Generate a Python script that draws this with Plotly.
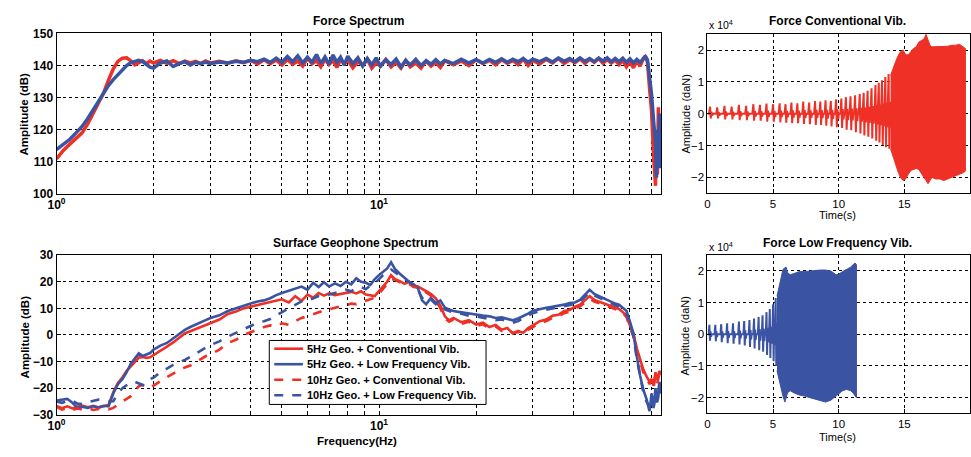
import math
import plotly.graph_objects as go

W, H = 971, 457
RED = '#EE3026'
BLUE = '#3A54A3'
FONT = 'Liberation Sans, Arial, sans-serif'

# ---------------- Force spectrum (top-left) ----------------
F_FREQ = [
    1.00, 1.05, 1.10, 1.15, 1.20, 1.25, 1.30, 1.35, 1.40, 1.45,
    1.50, 1.55, 1.60, 1.65, 1.70, 1.75, 1.80, 1.85, 1.90, 1.95,
    2.00, 2.10, 2.20, 2.30, 2.40, 2.50, 2.60, 2.70, 2.80, 2.90,
    3.00, 3.20, 3.40, 3.60, 3.80, 4.00, 4.20, 4.40, 4.60, 4.80,
    5.00, 5.20, 5.40, 5.60, 5.80, 6.00, 6.20, 6.40, 6.60, 6.80,
    7.00, 7.20, 7.40, 7.60, 7.80, 8.00, 8.30, 8.60, 8.90, 9.20,
    9.50, 9.80, 10.1, 10.5, 10.9, 11.3, 11.7, 12.1, 12.5, 13.0,
    13.5, 14.0, 14.5, 15.0, 15.5, 16.0, 17.0, 18.0, 19.0, 20.0,
    21.0, 22.0, 23.0, 24.0, 25.0, 26.0, 27.0, 28.0, 29.0, 30.0,
    31.5, 33.0, 34.5, 36.0, 37.5, 39.0, 40.5, 42.0, 43.5, 45.0,
    46.5, 48.0, 49.5, 51.0, 52.5, 54.0, 55.5, 57.0, 58.5, 60.0,
    61.5, 63.0, 64.5, 66.0, 67.0, 68.0, 69.0, 70.0, 71.0, 72.0,
    72.5, 73.0, 73.5, 74.0, 74.5, 75.0,
]
F_CONV = [
    110.9, 113.5, 115.5, 117.2, 119.0, 121.8, 125.0, 128.0, 131.5, 135.5,
    139.0, 141.3, 142.3, 142.4, 141.5, 140.2, 140.8, 141.5, 140.6, 141.4,
    140.8, 141.6, 140.7, 141.5, 140.6, 141.4, 140.8, 141.3, 140.6, 141.4,
    140.8, 141.3, 140.7, 141.5, 140.9, 141.6, 140.5, 141.8, 140.6, 141.7,
    140.2, 141.9, 140.4, 141.4, 139.8, 142.3, 140.6, 141.5, 139.6, 142.0,
    140.3, 141.6, 139.4, 141.9, 140.5, 141.7, 139.3, 141.2, 140.2, 141.9,
    139.2, 140.8, 139.8, 141.9, 139.6, 141.0, 139.2, 141.6, 139.6, 140.8,
    139.2, 141.4, 139.8, 141.0, 139.4, 141.5, 140.2, 141.4, 140.0, 141.8,
    140.6, 141.6, 140.2, 141.8, 140.7, 141.6, 140.3, 142.0, 140.0, 141.6,
    140.5, 141.9, 140.8, 142.2, 140.6, 141.8, 140.9, 142.1, 140.7, 142.0,
    141.0, 142.2, 140.7, 141.9, 140.8, 141.7, 140.3, 141.6, 139.6, 141.2,
    139.3, 141.3, 139.8, 142.2, 143.0, 141.0, 133.0, 126.0, 112.0, 102.5,
    118.0, 106.0, 127.0, 110.0, 124.0, 113.0,
]
F_LOW = [
    113.8, 115.3, 117.0, 119.0, 121.0, 123.5, 126.3, 129.0, 131.5, 133.8,
    135.6, 137.2, 138.6, 140.0, 140.9, 141.4, 141.6, 141.2, 140.3, 139.5,
    139.2, 140.8, 141.4, 139.7, 140.6, 141.2, 140.2, 141.0, 140.6, 141.1,
    140.6, 141.1, 140.8, 141.3, 141.0, 141.6, 141.2, 142.0, 141.0, 142.3,
    141.0, 142.8, 141.2, 143.0, 140.8, 142.6, 141.0, 143.4, 140.6, 142.7,
    140.4, 143.3, 141.0, 142.6, 140.2, 142.9, 140.6, 142.4, 139.8, 142.2,
    140.2, 142.4, 139.8, 141.8, 140.3, 142.0, 139.6, 141.6, 140.2, 141.9,
    140.0, 141.5, 140.4, 141.8, 140.5, 141.6, 140.6, 142.0, 140.8, 141.8,
    140.8, 141.9, 141.0, 142.1, 141.0, 142.0, 141.2, 142.2, 141.0, 142.0,
    141.2, 142.2, 141.1, 142.3, 141.3, 142.2, 141.2, 142.4, 141.3, 142.2,
    141.2, 142.3, 141.4, 142.4, 141.2, 142.2, 141.2, 142.3, 141.0, 142.1,
    140.8, 141.9, 141.0, 142.2, 142.8, 141.8, 137.0, 131.0, 123.0, 116.0,
    105.0, 120.0, 110.0, 125.0, 108.0, 118.0,
]

# ---------------- Surface geophone spectrum (bottom-left) ----------------
G_FREQ = [
    1.00, 1.04, 1.08, 1.12, 1.16, 1.20, 1.25, 1.30, 1.35, 1.40,
    1.45, 1.50, 1.55, 1.60, 1.65, 1.70, 1.75, 1.80, 1.85, 1.90,
    1.95, 2.00, 2.10, 2.20, 2.30, 2.40, 2.50, 2.60, 2.70, 2.80,
    2.90, 3.00, 3.20, 3.40, 3.60, 3.80, 4.00, 4.20, 4.40, 4.60,
    4.80, 5.00, 5.25, 5.50, 5.75, 6.00, 6.25, 6.50, 6.75, 7.00,
    7.30, 7.60, 7.90, 8.20, 8.50, 8.80, 9.10, 9.40, 9.70, 10.0,
    10.3, 10.6, 10.9, 11.2, 11.6, 12.0, 12.4, 12.8, 13.2, 13.6,
    14.0, 14.5, 15.0, 15.5, 16.0, 16.5, 17.0, 18.0, 19.0, 20.0,
    21.0, 22.0, 23.0, 24.0, 25.0, 26.0, 27.0, 28.0, 29.0, 30.0,
    31.5, 33.0, 34.5, 36.0, 37.5, 39.0, 40.5, 42.0, 43.5, 45.0,
    46.5, 48.0, 49.5, 51.0, 52.5, 54.0, 55.5, 57.0, 58.5, 60.0,
    61.5, 63.0, 64.5, 66.0, 67.5, 69.0, 70.0, 71.0, 72.0, 73.0,
    74.0, 75.0,
]
G5_CONV = [
    -26.7, -27.5, -26.8, -27.6, -27.0, -26.5, -27.2, -26.6, -27.3, -26.8,
    -26.3, -21.5, -18.0, -16.0, -13.5, -11.8, -10.0, -8.5, -8.3, -8.6,
    -8.4, -7.6, -6.0, -4.4, -2.8, -1.0, 0.6, 1.4, 2.2, 3.0,
    3.9, 4.6, 5.8, 7.9, 8.8, 10.0, 10.6, 11.2, 12.0, 12.4,
    13.0, 13.4, 12.2, 14.6, 12.8, 15.2, 14.0, 15.8, 14.8, 15.6,
    15.0, 15.4, 15.8, 16.2, 15.6, 16.4, 15.2, 14.8, 14.6, 16.5,
    18.5, 20.0, 22.5, 21.0, 20.2, 19.2, 20.0, 18.6, 18.2, 17.2,
    16.5, 15.4, 13.8, 11.0, 7.0, 5.5, 6.4, 4.8, 5.6, 3.9,
    4.6, 3.0, 3.8, 2.0, 2.6, 0.6, 1.5, 0.8, 2.6, 3.6,
    5.2, 5.8, 7.2, 7.6, 9.0, 9.4, 10.6, 11.4, 13.2, 14.6,
    13.2, 12.6, 12.2, 11.4, 11.0, 10.4, 9.8, 8.6, 7.2, 3.6,
    0.6, -5.0, -9.5, -13.0, -15.5, -17.6, -16.5, -19.0, -14.0, -17.0,
    -13.5, -15.0,
]
G5_LOW = [
    -24.6, -24.2, -24.0, -25.5, -27.3, -27.0, -27.4, -26.8, -27.2, -26.6,
    -26.8, -22.0, -18.5, -16.6, -14.0, -10.8, -8.6, -6.9, -7.9, -7.4,
    -6.8, -5.5, -4.0, -3.0, -1.2, 0.5, 1.9, 3.0, 4.0, 4.8,
    5.6, 6.4, 7.4, 9.0, 10.0, 11.2, 11.8, 12.6, 13.0, 13.8,
    15.0, 15.8, 16.6, 17.2, 18.2, 17.0, 19.6, 18.0, 19.8, 18.2,
    19.4, 18.4, 20.0, 19.0, 21.3, 20.0, 19.6, 18.8, 21.0, 22.5,
    23.7, 25.0, 27.3, 24.8, 23.0, 21.5, 20.0, 19.0, 17.6, 13.0,
    11.5, 14.0, 12.0, 13.0, 10.3, 9.6, 9.0, 8.5, 8.0, 7.6,
    7.3, 7.0, 6.4, 6.6, 6.1, 5.5, 6.2, 7.0, 8.0, 9.1,
    9.8, 10.2, 10.6, 10.9, 11.4, 12.0, 12.2, 13.2, 15.0, 17.0,
    15.4, 14.6, 13.8, 13.2, 12.4, 11.8, 11.4, 10.2, 9.1, 5.0,
    0.6, -8.0, -15.2, -20.5, -24.0, -28.6, -22.0, -27.5, -20.0, -25.0,
    -17.6, -21.0,
]
G10_CONV = [
    -27.0, -28.0, -27.4, -28.2, -27.6, -28.0, -27.5, -28.2, -27.8, -28.0,
    -28.0, -27.4, -26.1, -25.0, -24.0, -23.0, -21.0, -19.2, -18.8, -19.4,
    -20.0, -19.0, -17.2, -15.8, -14.5, -13.2, -12.2, -11.5, -10.2, -9.2,
    -8.0, -7.2, -5.5, -3.0, -1.8, 0.0, 0.9, 2.0, 3.0, 3.6,
    3.2, 4.4, 3.8, 5.2, 6.4, 7.0, 7.8, 8.6, 9.2, 9.6,
    10.3, 10.8, 11.2, 11.8, 11.6, 12.2, 13.0, 13.6, 14.0, 15.5,
    17.5, 19.2, 21.0, 20.8, 19.8, 19.5, 19.2, 18.0, 17.8, 16.6,
    16.0, 14.8, 13.0, 10.0, 6.2, 5.0, 5.8, 4.2, 5.0, 3.4,
    4.0, 2.4, 3.2, 1.6, 2.2, 0.8, 1.0, 1.8, 2.0, 3.0,
    4.4, 5.2, 6.4, 7.0, 8.2, 8.8, 10.0, 10.8, 12.4, 13.6,
    12.6, 12.0, 11.6, 10.8, 10.4, 10.0, 9.2, 8.2, 6.8, 3.0,
    -0.5, -6.0, -10.5, -14.0, -16.0, -18.5, -17.0, -20.0, -15.0, -18.0,
    -14.5, -16.0,
]
G10_LOW = [
    -25.0, -25.5, -24.8, -24.6, -25.8, -26.0, -25.2, -24.6, -24.3, -24.6,
    -25.0, -24.9, -22.0, -20.0, -18.8, -17.8, -17.6, -18.2, -18.8, -18.0,
    -16.6, -16.0, -14.0, -12.6, -11.2, -10.2, -9.4, -8.2, -7.0, -5.6,
    -4.8, -3.8, -2.4, -0.6, 0.8, 2.4, 3.6, 4.6, 5.2, 6.0,
    7.4, 8.6, 10.0, 11.4, 12.6, 12.8, 13.8, 14.6, 14.4, 15.2,
    15.8, 16.2, 17.0, 16.4, 17.6, 18.0, 17.2, 18.6, 19.4, 21.0,
    22.5, 23.4, 24.6, 23.6, 22.4, 21.0, 19.8, 18.6, 17.0, 14.0,
    12.6, 13.2, 11.6, 12.4, 9.6, 9.0, 8.4, 8.0, 7.2, 7.0,
    6.6, 6.2, 5.6, 5.8, 5.2, 4.6, 5.2, 6.2, 7.2, 8.2,
    9.0, 9.6, 10.0, 10.4, 10.8, 11.4, 11.6, 12.6, 14.2, 16.0,
    14.8, 14.0, 13.2, 12.6, 12.0, 11.2, 10.8, 9.6, 8.4, 4.0,
    -0.5, -9.0, -16.0, -21.5, -25.0, -27.0, -23.5, -28.5, -21.0, -26.5,
    -18.5, -22.0,
]
LEGEND_NAMES = [
    '5Hz Geo. + Conventional Vib.',
    '5Hz Geo. + Low Frequency Vib.',
    '10Hz Geo. + Conventional Vib.',
    '10Hz Geo. + Low Frequency Vib.',
]

# ---------------- Force time series (right) ----------------
CONV_BURST_T = [0.2, 0.75, 1.3, 1.85, 2.4, 2.95, 3.5, 4.0, 4.5, 5.0, 5.5, 5.95, 6.4, 6.85, 7.3, 7.75, 8.2,
                8.6, 9.0, 9.4, 9.8, 10.2, 10.55, 10.9, 11.25, 11.6, 11.9, 12.2, 12.5, 12.8, 13.05, 13.3, 13.55, 13.8]
CONV_BURST_UP = [0.22, 0.2, 0.25, 0.22, 0.28, 0.25, 0.3, 0.28, 0.32, 0.3, 0.33, 0.3, 0.35, 0.33, 0.38, 0.35, 0.4,
                 0.38, 0.42, 0.4, 0.45, 0.48, 0.52, 0.55, 0.58, 0.62, 0.66, 0.72, 0.8, 0.9, 0.97, 1.05, 1.15, 1.25]
CONV_BURST_DN = [-0.15, -0.15, -0.18, -0.18, -0.2, -0.2, -0.22, -0.22, -0.25, -0.25, -0.27, -0.28, -0.3, -0.3,
                 -0.32, -0.33, -0.35, -0.35, -0.38, -0.4, -0.42, -0.45, -0.5, -0.52, -0.58, -0.62, -0.68, -0.72,
                 -0.78, -0.85, -0.9, -0.98, -1.05, -1.1]
CONV_ENV_T = [13.95, 14.1, 14.3, 14.5, 14.7, 14.9, 15.1, 15.3, 15.5, 15.7, 15.9, 16.1, 16.3, 16.5, 16.65,
              16.8, 16.95, 17.1, 17.4, 17.7, 18.0, 18.3, 18.6, 18.9, 19.2, 19.5, 19.65]
CONV_ENV_UP = [1.2, 1.4, 1.6, 1.8, 1.95, 2.0, 1.85, 1.85, 1.95, 2.05, 2.1, 2.25, 2.3, 2.35, 2.5,
               2.35, 2.15, 2.1, 2.1, 2.12, 2.1, 2.12, 2.15, 2.15, 2.18, 2.1, 2.05]
CONV_ENV_DN = [-1.1, -1.3, -1.55, -1.8, -2.0, -2.1, -2.05, -1.9, -1.78, -1.75, -1.72, -1.75, -1.85, -2.0, -2.1,
               -2.2, -2.1, -2.0, -2.05, -2.05, -2.1, -2.05, -2.0, -1.95, -1.9, -1.85, -1.8]

LOW_BURST_T = [0.15, 0.6, 1.05, 1.5, 1.95, 2.4, 2.8, 3.2, 3.55, 3.9, 4.2, 4.5, 4.75, 5.0, 5.2]
LOW_BURST_UP = [0.3, 0.3, 0.32, 0.35, 0.35, 0.4, 0.42, 0.45, 0.5, 0.55, 0.6, 0.7, 0.8, 0.95, 1.15]
LOW_BURST_DN = [-0.2, -0.22, -0.25, -0.28, -0.3, -0.32, -0.35, -0.4, -0.45, -0.5, -0.55, -0.65, -0.75, -0.85, -1.0]
LOW_ENV_T = [5.3, 5.45, 5.6, 5.75, 5.9, 6.0, 6.1, 6.3, 6.6, 7.0, 7.4, 7.8, 8.2, 8.6, 9.0,
             9.4, 9.8, 10.0, 10.3, 10.6, 10.9, 11.1, 11.25, 11.35]
LOW_ENV_UP = [1.2, 1.5, 1.85, 2.05, 2.1, 2.12, 1.95, 1.88, 1.92, 1.98, 1.98, 2.0, 2.03, 2.03, 2.03,
              2.0, 1.88, 1.9, 1.98, 2.05, 2.12, 2.2, 2.25, 2.2]
LOW_ENV_DN = [-1.15, -1.45, -1.7, -1.95, -2.14, -2.05, -1.85, -1.78, -1.85, -1.92, -1.95, -2.0, -2.05, -2.1, -2.14,
              -2.08, -1.95, -1.88, -1.78, -1.74, -1.78, -1.85, -1.95, -2.0]

LOG_MAJOR = [1, 10]
LOG_MAJOR_TEXT = ['10<sup>0</sup>', '10<sup>1</sup>']
LOG_MINOR = [2, 3, 4, 5, 6, 7, 8, 9, 20, 30, 40, 50, 60, 70]
TIME_TICKS = [0, 5, 10, 15, 20]
FORCE_TICKS = [-2, -1, 0, 1, 2]

assert len(F_FREQ) == len(F_CONV) == len(F_LOW)
assert len(G_FREQ) == len(G5_CONV) == len(G5_LOW) == len(G10_CONV) == len(G10_LOW)
assert len(CONV_ENV_T) == len(CONV_ENV_UP) == len(CONV_ENV_DN)
assert len(LOW_ENV_T) == len(LOW_ENV_UP) == len(LOW_ENV_DN)
assert len(CONV_BURST_T) == len(CONV_BURST_UP) == len(CONV_BURST_DN)
assert len(LOW_BURST_T) == len(LOW_BURST_UP) == len(LOW_BURST_DN)


def burst_path(times, ups, downs, step):
    """Polyline through each burst: rise to its peak, swing to its trough, settle."""
    xs, ys = [0.0], [0.0]
    for t, u, d in zip(times, ups, downs):
        xs += [t - 0.35 * step, t, t + 0.25 * step, t + 0.5 * step, t + 0.75 * step, t + step]
        ys += [0.0, u, d, 0.3 * u, 0.4 * d, 0.0]
    return xs, ys


def px(x):
    return x / W


def py(y):
    return 1 - y / H


fig = go.Figure()

# top-left
fig.add_trace(go.Scatter(x=F_FREQ, y=F_CONV, mode='lines', line=dict(color=RED, width=3.5),
                         xaxis='x', yaxis='y', showlegend=False))
fig.add_trace(go.Scatter(x=F_FREQ, y=F_LOW, mode='lines', line=dict(color=BLUE, width=3.5),
                         xaxis='x', yaxis='y', showlegend=False))

# bottom-left
STYLES = [(RED, 'solid'), (BLUE, 'solid'), (RED, 'dash'), (BLUE, 'dash')]
for vals, (col, dash), name in zip([G5_CONV, G5_LOW, G10_CONV, G10_LOW], STYLES, LEGEND_NAMES):
    fig.add_trace(go.Scatter(x=G_FREQ, y=vals, mode='lines', name=name,
                             line=dict(color=col, width=2.6, dash=dash),
                             xaxis='x3', yaxis='y3', showlegend=False))

# right: conventional
bx, by = burst_path(CONV_BURST_T, CONV_BURST_UP, CONV_BURST_DN, 0.22)
fig.add_trace(go.Scatter(x=bx, y=by, mode='lines', line=dict(color=RED, width=2),
                         xaxis='x2', yaxis='y2', showlegend=False))
fig.add_trace(go.Scatter(x=CONV_ENV_T + CONV_ENV_T[::-1], y=CONV_ENV_UP + CONV_ENV_DN[::-1],
                         mode='lines', fill='toself', fillcolor=RED, line=dict(color=RED, width=1),
                         xaxis='x2', yaxis='y2', showlegend=False))

# right: low frequency
bx, by = burst_path(LOW_BURST_T, LOW_BURST_UP, LOW_BURST_DN, 0.17)
fig.add_trace(go.Scatter(x=bx, y=by, mode='lines', line=dict(color=BLUE, width=2),
                         xaxis='x4', yaxis='y4', showlegend=False))
fig.add_trace(go.Scatter(x=LOW_ENV_T + LOW_ENV_T[::-1], y=LOW_ENV_UP + LOW_ENV_DN[::-1],
                         mode='lines', fill='toself', fillcolor=BLUE, line=dict(color=BLUE, width=1),
                         xaxis='x4', yaxis='y4', showlegend=False))


def frame(bold, **kw):
    d = dict(showline=True, linecolor='black', linewidth=1, mirror=True,
             ticks='inside', ticklen=4, tickcolor='black',
             showgrid=True, gridcolor='black', griddash='dot', gridwidth=1,
             zeroline=False, fixedrange=True,
             tickfont=dict(family=FONT, size=12 if bold else 11.5, color='black',
                           weight='bold' if bold else 'normal'))
    d.update(kw)
    return d


LX = [px(48), px(659)]
RX = [px(705.7), 1.0]
log_axis = dict(type='log', range=[0, math.log10(75)], tickmode='array',
                tickvals=LOG_MAJOR, ticktext=LOG_MAJOR_TEXT,
                minor=dict(tickmode='array', tickvals=LOG_MINOR, ticks='inside', ticklen=3,
                           tickcolor='black', showgrid=True, gridcolor='black',
                           griddash='dot', gridwidth=1))

fig.update_layout(
    width=W, height=H, margin=dict(l=0, r=0, t=0, b=0),
    paper_bgcolor='white', plot_bgcolor='white', showlegend=False,
    font=dict(family=FONT, color='black'),
    xaxis=frame(True, domain=LX, anchor='y', **log_axis),
    yaxis=frame(True, domain=[py(192.7), py(27.3)], anchor='x', range=[100, 150], dtick=10),
    xaxis2=frame(False, domain=RX, anchor='y2', range=[0, 20], tickvals=TIME_TICKS),
    yaxis2=frame(False, domain=[py(192.2), py(28)], anchor='x2', range=[-2.5, 2.5], tickvals=FORCE_TICKS),
    xaxis3=frame(True, domain=LX, anchor='y3', **log_axis),
    yaxis3=frame(True, domain=[py(420.7), py(256)], anchor='x3', range=[-30, 30], dtick=10),
    xaxis4=frame(False, domain=RX, anchor='y4', range=[0, 20], tickvals=TIME_TICKS),
    yaxis4=frame(False, domain=[py(419.3), py(256)], anchor='x4', range=[-2.5, 2.5], tickvals=FORCE_TICKS),
)

# legend box (drawn as a key inside the geophone panel)
fig.add_shape(type='rect', xref='paper', yref='paper', x0=px(263), x1=px(482), y0=py(410), y1=py(344),
              line=dict(color='black', width=1), fillcolor='white', layer='above')
for i, ((col, dash), name) in enumerate(zip(STYLES, LEGEND_NAMES)):
    yy = py(352.5 + 16 * i)
    fig.add_shape(type='line', xref='paper', yref='paper', x0=px(268), x1=px(297), y0=yy, y1=yy,
                  line=dict(color=col, width=2.6, dash=dash), layer='above')
    fig.add_annotation(text=name, x=px(299), y=yy, xref='paper', yref='paper', showarrow=False,
                       xanchor='left', yanchor='middle',
                       font=dict(family=FONT, size=11, color='black', weight='bold'))


def note(text, x, y, size=12, bold=True, angle=0, xanchor='center'):
    fig.add_annotation(text=text, x=px(x), y=py(y), xref='paper', yref='paper',
                       showarrow=False, textangle=angle, xanchor=xanchor, yanchor='middle',
                       font=dict(family=FONT, size=size, color='black',
                                 weight='bold' if bold else 'normal'))


note('Force Spectrum', 353, 14)
note('Surface Geophone Spectrum', 350, 243)
note('Force Conventional Vib.', 837, 14)
note('Force Low Frequency Vib.', 837, 243)
note('Amplitude (dB)', 15, 110, size=11.5, angle=-90)
note('Amplitude (dB)', 16, 340, size=11.5, angle=-90)
note('Frequency(Hz)', 352, 448, size=11.5)
note('Amplitude (daN)', 684, 110, size=11, bold=False, angle=-90)
note('Amplitude (daN)', 683, 339, size=11, bold=False, angle=-90)
note('Time(s)', 837, 215, size=11, bold=False)
note('Time(s)', 837, 444, size=11, bold=False)
note('x 10<sup>4</sup>', 705, 18, size=10.5, bold=False, xanchor='left')
note('x 10<sup>4</sup>', 705, 247, size=10.5, bold=False, xanchor='left')

fig.write_html('out.html')
